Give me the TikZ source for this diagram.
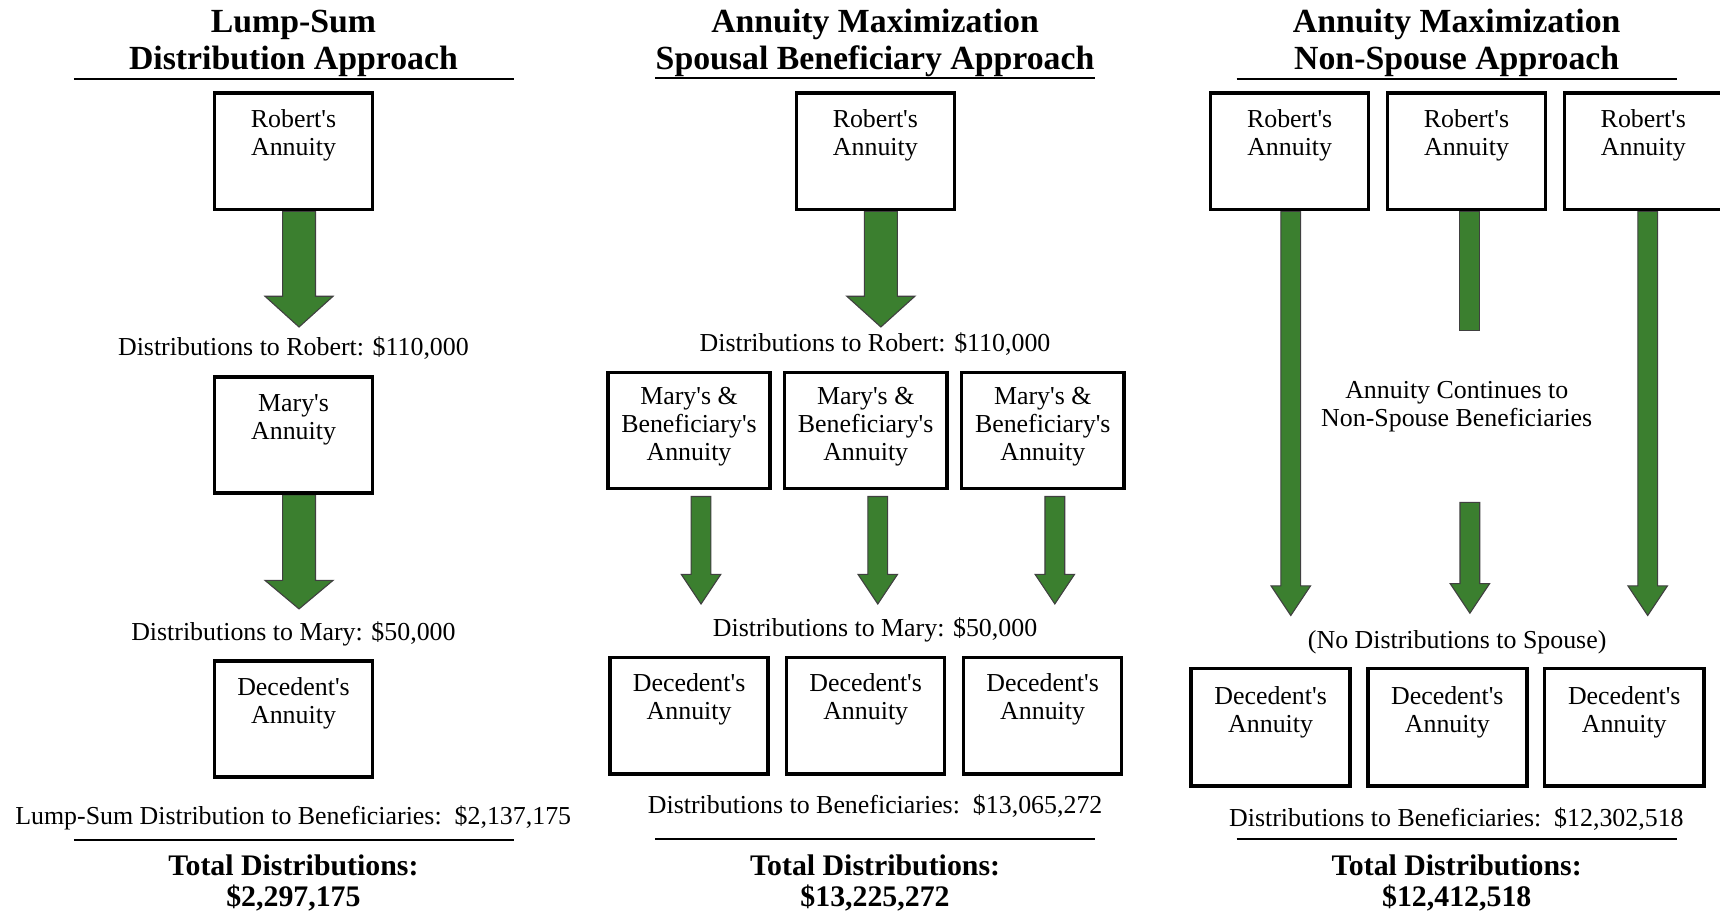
\documentclass[tikz,border=0pt]{standalone}
\usepackage{fontspec}
\setmainfont{Liberation Serif}
\usetikzlibrary{calc}
\definecolor{agreen}{RGB}{59,127,47}
\newcommand{\q}{\textquotesingle}
\pgfdeclarelayer{back}
\pgfdeclarelayer{bg}
\pgfsetlayers{back,bg,main}
% #1 start coordinate, #2 length, #3 shaft half width, #4 head half width, #5 head length
\newcommand{\garr}[5]{\filldraw[garrow] ($(#1)+(-#3,0)$) -- ++(0,#2-#5) -- ++(#3-#4,0) -- ($(#1)+(0,#2)$) -- ($(#1)+(#4,#2-#5)$) -- ++(#3-#4,0) -- ($(#1)+(#3,0)$) -- cycle;}
\begin{document}
\begin{tikzpicture}[x=0.5pt,y=-0.5pt,
 box/.style={draw=black,line width=1.6pt,minimum width=72pt,minimum height=53pt,inner sep=0pt},
 wbox/.style={box,minimum width=74pt,minimum height=53pt},
 dbox/.style={box,minimum width=72.5pt,minimum height=53.5pt},
 btxt/.style={anchor=north,inner sep=0pt,align=center,font=\fontsize{11.8pt}{12.75pt}\selectfont},
 body/.style={anchor=base,inner sep=0pt,font=\fontsize{11.8pt}{12.75pt}\selectfont},
 ttl/.style={anchor=base,inner sep=0pt,font=\fontsize{15.4pt}{16.5pt}\selectfont\bfseries},
 tot/.style={anchor=base,inner sep=0pt,font=\fontsize{13.6pt}{14pt}\selectfont\bfseries},
 rulel/.style={line width=1pt},
 garrow/.style={fill=agreen,draw=black!75,line width=0.5pt}]
\clip (0,0) rectangle (1568,831);
\begin{pgfonlayer}{back}
\fill[white] (0,0) rectangle (1568,831);
\end{pgfonlayer}

% ---------------- Column 1 ----------------
\node[ttl] (t1a) at (267.5,30) {Lump-Sum};
\node[ttl] (t1b) at (267.5,63) {Distribution Approach};
\draw[rulel] (67.4,72) coordinate (r1l) -- (468.7,72) coordinate (r1r);
\node[box] (L1rob) at (267.6,138) {};
\node[btxt] (L1robt) at ($(L1rob.north)+(0,16.5)$) {Robert\q s\\Annuity};
\node[body] (L1d1) at (267.5,324) {Distributions to Robert: \$110,000};
\node[box] (L1mar) at (267.6,396.5) {};
\node[btxt] (L1mart) at ($(L1mar.north)+(0,17)$) {Mary\q s\\Annuity};
\node[body] (L1d2) at (267.5,584) {Distributions to Mary: \$50,000};
\node[box] (L1dec) at (267.6,655.5) {};
\node[btxt] (L1dect) at ($(L1dec.north)+(0,16.5)$) {Decedent\q s\\Annuity};
\node[body] (L1d3) at (267.3,752) {Lump-Sum Distribution to Beneficiaries:\ \ \$2,137,175};
\draw[rulel] (67.4,766) coordinate (r1bl) -- (468.7,766) coordinate (r1br);
\node[tot] (L1tot) at (267.5,798) {Total Distributions:};
\node[tot] (L1sum) at (267.5,826) {\$2,297,175};

% ---------------- Column 2 ----------------
\node[ttl] (t2a) at (797.7,30) {Annuity Maximization};
\node[ttl] (t2b) at (797.7,63) {Spousal Beneficiary Approach};
\draw[rulel] (597.2,71) coordinate (r2l) -- (998.1,71) coordinate (r2r);
\node[box] (M2rob) at (798,138) {};
\node[btxt] (M2robt) at ($(M2rob.north)+(0,16.5)$) {Robert\q s\\Annuity};
\node[body] (M2d1) at (797.7,320) {Distributions to Robert: \$110,000};
\node[wbox] (M2a) at (628.1,392.5) {};
\node[wbox] (M2b) at (789.2,392.5) {};
\node[wbox] (M2c) at (950.6,392.5) {};
\foreach \b in {M2a,M2b,M2c}
  \node[btxt] (\b t) at ($(\b.north)+(0,15)$) {Mary\q s \&\\Beneficiary\q s\\Annuity};
\node[body] (M2d2) at (797.7,580) {Distributions to Mary: \$50,000};
\node[box,minimum height=53pt] (M2da) at (628.2,652.5) {};
\node[box,minimum height=53pt] (M2db) at (789.2,652.5) {};
\node[box,minimum height=53pt] (M2dc) at (950.5,652.5) {};
\foreach \b in {M2da,M2db,M2dc}
  \node[btxt] (\b t) at ($(\b.north)+(0,16)$) {Decedent\q s\\Annuity};
\node[body] (M2d3) at (797.8,742) {Distributions to Beneficiaries:\ \ \$13,065,272};
\draw[rulel] (597.2,765) coordinate (r2bl) -- (998.1,765) coordinate (r2br);
\node[tot] (M2tot) at (797.7,798) {Total Distributions:};
\node[tot] (M2sum) at (797.7,826) {\$13,225,272};

% ---------------- Column 3 ----------------
\node[ttl] (t3a) at (1328,30) {Annuity Maximization};
\node[ttl] (t3b) at (1328,63) {Non-Spouse Approach};
\draw[rulel] (1127.4,72) coordinate (r3l) -- (1528.7,72) coordinate (r3r);
\node[box] (R3a) at (1175.7,138) {};
\node[box] (R3b) at (1336.9,138) {};
\node[box] (R3c) at (1498.1,138) {};
\foreach \b in {R3a,R3b,R3c}
  \node[btxt] (\b t) at ($(\b.north)+(0,16.5)$) {Robert\q s\\Annuity};
\node[btxt] (R3cont) at (1328,347) {Annuity Continues to\\Non-Spouse Beneficiaries};
\node[body] (R3no) at (1328.4,591) {(No Distributions to Spouse)};
\node[dbox] (R3da) at (1158.3,663) {};
\node[dbox] (R3db) at (1319.4,663) {};
\node[dbox] (R3dc) at (1480.7,663) {};
\foreach \b in {R3da,R3db,R3dc}
  \node[btxt] (\b t) at ($(\b.north)+(0,17.5)$) {Decedent\q s\\Annuity};
\node[body] (R3d3) at (1327.7,753) {Distributions to Beneficiaries:\ \ \$12,302,518};
\draw[rulel] (1127.4,765) coordinate (r3bl) -- (1528.7,765) coordinate (r3br);
\node[tot] (R3tot) at (1328,798) {Total Distributions:};
\node[tot] (R3sum) at (1328,826) {\$12,412,518};

% ---------------- Arrows ----------------
\begin{pgfonlayer}{bg}
\coordinate (a1) at ($(L1rob.south)+(5,0)$);
\coordinate (a2) at ($(L1mar.south)+(5,0)$);
\garr{a1}{105.5}{15}{31}{28}
\garr{a2}{104}{15}{31}{26}
\coordinate (b1) at ($(M2rob.south)+(5,0)$);
\garr{b1}{105.5}{15}{31}{28}
\coordinate (b2) at ($(M2a.south)+(11,5.5)$);
\coordinate (b3) at ($(M2b.south)+(11,5.5)$);
\coordinate (b4) at ($(M2c.south)+(11,5.5)$);
\foreach \c in {b2,b3,b4} {\garr{\c}{98}{9}{18}{27}}
\coordinate (c1) at ($(R3a.south)+(1,0)$);
\coordinate (c3) at ($(R3c.south)+(4,0)$);
\garr{c1}{368.5}{9}{18}{27}
\garr{c3}{368.5}{9}{18}{27}
\filldraw[garrow] ($(R3b.south)+(3-9,0)$) rectangle ($(R3b.south)+(3+9,108.5)$);
\coordinate (c2) at (1340,458);
\garr{c2}{101}{9}{18}{27}
\end{pgfonlayer}
\end{tikzpicture}
\end{document}
